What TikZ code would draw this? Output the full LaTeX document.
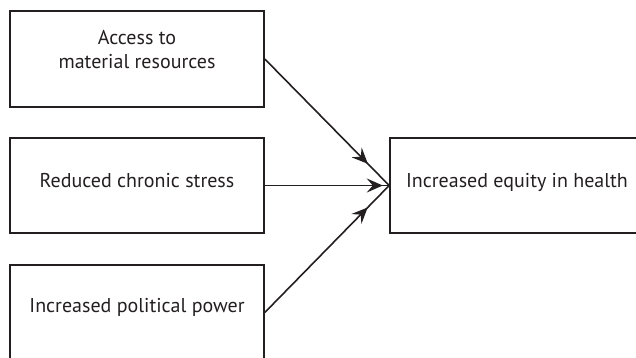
\documentclass[tikz,border=0pt]{standalone}
\usepackage{fontspec}
\setmainfont{PT Sans}
\usetikzlibrary{arrows.meta,decorations.markings}
\definecolor{ink}{HTML}{231F20}
\tikzset{
  box/.style={draw=ink, line width=1.6pt, text=ink, minimum width=254pt, minimum height=95pt,
    inner sep=0pt, align=center, font=\fontsize{20}{24}\selectfont},
  oneline/.style={text height=14.5pt, text depth=11.5pt},
  conn/.style={draw=ink, line width=1.6pt},
  tipat/.style={postaction={decorate}, decoration={markings,
    mark=at position {#1} with {\arrow{Stealth[length=16pt,width=14pt,inset=6pt]}}}}
}
\begin{document}
\begin{tikzpicture}[x=1pt,y=-1pt]
\useasboundingbox (0,0) rectangle (636,358);
\begin{scope}
\clip (0,0) rectangle (636,358);
\node[box, minimum height=96pt] (acc) at (137,59) {Access to\\material resources\rule[-20pt]{0pt}{20pt}};
\node[box, oneline] (red) at (137,185.5) {Reduced chronic stress};
\node[box, text height=14.5pt, text depth=14.5pt] (pol) at (137,312.5) {Increased political power};
\node[box, oneline] (eq) at (517,185.5) {Increased equity in health};
\end{scope}
\path[conn, tipat=147pt] (acc.east) -- (eq.west);
\path[conn, tipat=118pt] (red.east) -- (eq.west);
\path[conn, tipat=147pt] (pol.east) -- (eq.west);
\end{tikzpicture}
\end{document}
